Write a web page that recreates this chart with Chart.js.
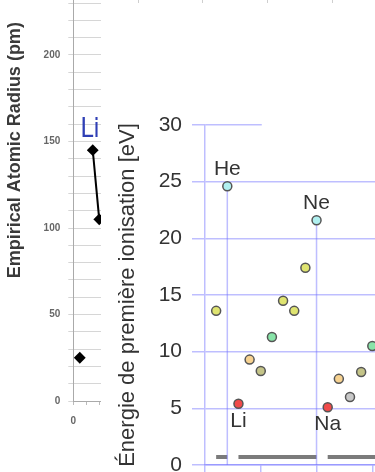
<!DOCTYPE html>
<html>
<head>
<meta charset="utf-8">
<script src="https://cdn.jsdelivr.net/npm/chart.js@4/dist/chart.umd.min.js"></script>
<style>
    html, body { margin: 0; padding: 0; background: #fff; width: 375px; height: 472px; overflow: hidden; }
    #back { position: absolute; left: 0; top: -130px; }
    #panel { position: absolute; left: 101px; top: 3px; width: 274px; height: 469px; background: #fff; overflow: hidden; }
    #front { position: absolute; left: 0; top: 0; }
</style>
</head>
<body>
<canvas id="back" width="375" height="559"></canvas>
<div id="panel"><canvas id="front" width="400" height="500"></canvas></div>

<script>
// Background chart: empirical atomic radius (pm) by atomic number
const radiusZ = [1, 2, 3, 4];
const radiusPm = [25, null, 145, 105];
const radiusNames = ['', '', 'Li', ''];

// Foreground chart: first ionisation energy (eV)
const symbols = ['H', 'He', 'Li', 'Be', 'B', 'C', 'N', 'O', 'F', 'Ne', 'Na', 'Mg', 'Al', 'Si', 'P'];
const atomicNumbers = [1, 2, 3, 4, 5, 6, 7, 8, 9, 10, 11, 12, 13, 14, 15];
const ionisationEv = [13.6, 24.6, 5.4, 9.3, 8.3, 11.3, 14.5, 13.6, 17.4, 21.6, 5.1, 7.6, 6.0, 8.2, 10.5];
const families = ['nonmetal', 'noble', 'alkali', 'alkaline', 'metalloid', 'carbon', 'nonmetal', 'nonmetal',
                  'nonmetal', 'noble', 'alkali', 'alkaline', 'metal', 'metalloid', 'carbon'];
const nobleGases = ['He', 'Ne'];
const labelsAbove = ['He', 'Ne'];
const labelsBelow = ['Li', 'Na'];
const periodStart = [1, 3, 11];
const periodEnd = [2, 10, 18];
const periodBarLevel = 0.7;

const familyColors = {
    nonmetal: '#dfe470',
    noble: '#b0f0f0',
    alkali: '#f04a4a',
    alkaline: '#f7d290',
    metalloid: '#c4c488',
    carbon: '#88e4a8',
    metal: '#c8c8c8'
};
const gridBlue = 'rgba(110, 110, 255, 0.45)';

// names next to the radius points
const radiusLabelPlugin = {
    id: 'radiusLabels',
    afterDatasetsDraw(chart) {
        const meta = chart.getDatasetMeta(0);
        const ctx = chart.ctx;
        ctx.save();
        ctx.font = '26px "Liberation Sans Narrow", "DejaVu Sans Condensed", sans-serif';
        ctx.fillStyle = '#2f3fb5';
        ctx.textAlign = 'left';
        ctx.textBaseline = 'alphabetic';
        radiusNames.forEach(function(name, i) {
            if (!name) return;
            const pt = meta.data[i];
            ctx.fillText(name, pt.x - 12.6, pt.y - 13);
        });
        ctx.restore();
    }
};

// element symbols above / below some points
const symbolLabelPlugin = {
    id: 'symbolLabels',
    afterDatasetsDraw(chart) {
        const meta = chart.getDatasetMeta(0);
        const ctx = chart.ctx;
        ctx.save();
        ctx.font = '21px "Liberation Sans", Arial, sans-serif';
        ctx.fillStyle = '#333';
        ctx.textAlign = 'center';
        ctx.textBaseline = 'middle';
        labelsAbove.forEach(function(s) {
            const pt = meta.data[symbols.indexOf(s)];
            ctx.fillText(s, pt.x, pt.y - 17);
        });
        labelsBelow.forEach(function(s) {
            const pt = meta.data[symbols.indexOf(s)];
            ctx.fillText(s, pt.x, pt.y + 17);
        });
        ctx.restore();
    }
};

// the top gridline is hidden past x = 5
const topLineCover = {
    id: 'topLineCover',
    beforeDatasetsDraw(chart) {
        const x = chart.scales.x.getPixelForValue(5);
        const y = chart.scales.y.getPixelForValue(30);
        const ctx = chart.ctx;
        ctx.save();
        ctx.fillStyle = '#fff';
        ctx.fillRect(x + 1, y - 2, chart.width, 4);
        ctx.restore();
    }
};

new Chart(document.getElementById('back'), {
    type: 'line',
    data: {
        datasets: [{
            data: radiusZ.map((z, i) => ({ x: z, y: radiusPm[i] })),
            borderColor: '#000',
            borderWidth: 2,
            pointStyle: 'rectRot',
            pointRadius: 4.5,
            pointBackgroundColor: '#000',
            pointBorderColor: '#000',
            spanGaps: false
        }]
    },
    options: {
        responsive: false,
        animation: false,
        layout: { padding: { left: 0, top: 29.3, right: 0, bottom: 0 } },
        plugins: { legend: { display: false }, tooltip: { enabled: false } },
        scales: {
            x: {
                type: 'linear', min: 0, max: 45,
                ticks: {
                    stepSize: 2, autoSkip: false, maxRotation: 0,
                    callback: v => (v % 10 === 0 ? v : ''),
                    color: '#666', font: { size: 10, weight: 'bold' }, padding: 10
                },
                grid: {
                    color: ctx => (ctx.tick && ctx.tick.value % 10 === 0 ? '#cfcfcf' : 'transparent'),
                    tickColor: '#bbb', tickLength: 4
                },
                border: { color: '#aaa' },
                afterFit: s => { s.height = 28; }
            },
            y: {
                min: 0, max: 290,
                ticks: {
                    stepSize: 10, autoSkip: false,
                    callback: v => (v % 50 === 0 ? v : ''),
                    color: '#666', font: { size: 10, weight: 'bold' }, padding: 8
                },
                grid: { color: '#d6d6d6', tickLength: 5 },
                border: { color: '#aaa' },
                title: {
                    display: true, text: 'Empirical Atomic Radius (pm)',
                    color: '#3a3a3a', font: { size: 18, weight: 'bold' }
                },
                afterFit: s => { s.width = 73.3; }
            }
        }
    },
    plugins: [radiusLabelPlugin]
});

const energyPoints = atomicNumbers.map((z, i) => ({ x: z, y: ionisationEv[i] }));

const dropLines = [];
nobleGases.forEach(function(s) {
    const i = symbols.indexOf(s);
    dropLines.push({ x: atomicNumbers[i], y: ionisationEv[i] });
    dropLines.push({ x: atomicNumbers[i], y: 0 });
    dropLines.push({ x: atomicNumbers[i], y: null });
});

const periodBars = [];
periodStart.forEach(function(z, i) {
    periodBars.push({ x: z, y: periodBarLevel });
    periodBars.push({ x: periodEnd[i], y: periodBarLevel });
    periodBars.push({ x: periodEnd[i], y: null });
});

new Chart(document.getElementById('front'), {
    type: 'scatter',
    data: {
        datasets: [
            {
                data: energyPoints,
                pointRadius: 4.5,
                pointBorderWidth: 1.5,
                pointBorderColor: '#555',
                pointBackgroundColor: families.map(f => familyColors[f]),
                showLine: false,
                order: 0
            },
            {
                data: dropLines,
                showLine: true,
                spanGaps: false,
                borderColor: gridBlue,
                borderWidth: 1.5,
                pointRadius: 0,
                order: 1
            },
            {
                data: periodBars,
                showLine: true,
                spanGaps: false,
                borderColor: '#7b7b7b',
                borderWidth: 4,
                borderCapStyle: 'butt',
                pointRadius: 0,
                order: 2
            }
        ]
    },
    options: {
        responsive: false,
        animation: false,
        layout: { padding: { left: 9.8, top: 122, right: 1.33, bottom: 0 } },
        plugins: { legend: { display: false }, tooltip: { enabled: false } },
        scales: {
            x: {
                type: 'linear', min: 0, max: 26,
                ticks: { stepSize: 5, display: false },
                grid: { drawOnChartArea: false, color: gridBlue, lineWidth: 1.5, tickLength: 10 },
                border: { color: gridBlue, width: 1.5 },
                afterFit: s => { s.height = 38; }
            },
            y: {
                min: 0, max: 30,
                ticks: {
                    stepSize: 5, color: '#333', padding: 10,
                    font: { family: '"Liberation Sans", Arial, sans-serif', size: 21 }
                },
                grid: { color: gridBlue, lineWidth: 1.5, tickLength: 13 },
                border: { color: gridBlue, width: 1.5 },
                title: {
                    display: true, text: 'Énergie de première ionisation [eV]', color: '#333',
                    font: { family: '"Liberation Sans", Arial, sans-serif', size: 22 }
                },
                afterFit: s => { s.width = 94.2; }
            }
        }
    },
    plugins: [topLineCover, symbolLabelPlugin]
});
</script>
</body>
</html>
